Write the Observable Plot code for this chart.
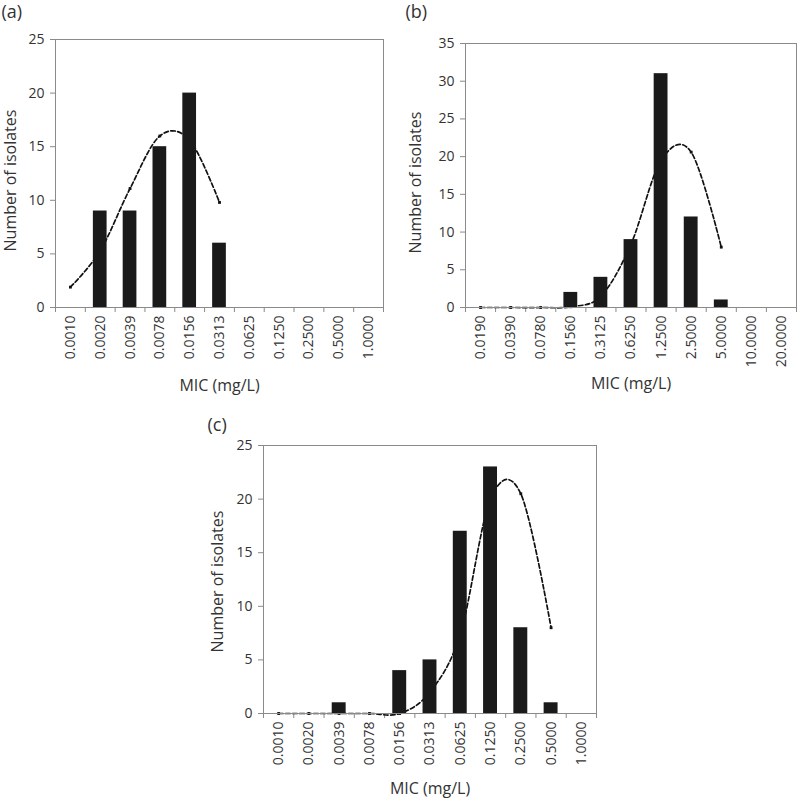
<!DOCTYPE html>
<html>
<head>
<meta charset="utf-8">
<script src="https://cdn.jsdelivr.net/npm/d3@7"></script>
<script src="https://cdn.jsdelivr.net/npm/@observablehq/plot@0.6"></script>
<style>
  html, body { margin: 0; padding: 0; background: #fff; }
  #root { position: relative; width: 797px; height: 799px; overflow: hidden; }
  .panel { position: absolute; }
</style>
</head>
<body>
<div id="root">
  <div class="panel" id="pa" style="left:0px;top:0px"></div>
  <div class="panel" id="pb" style="left:400px;top:0px"></div>
  <div class="panel" id="pc" style="left:200px;top:400px"></div>
</div>
<script>
// ---- Data ----
const labelsA = ["0.0010","0.0020","0.0039","0.0078","0.0156","0.0313","0.0625","0.1250","0.2500","0.5000","1.0000"];
const countsA = [0, 9, 9, 15, 20, 6, 0, 0, 0, 0, 0];
const trendA  = [1.9, 5.3, 11.1, 16, 15.6, 9.8];

const labelsB = ["0.0190","0.0390","0.0780","0.1560","0.3125","0.6250","1.2500","2.5000","5.0000","10.0000","20.0000"];
const countsB = [0, 0, 0, 2, 4, 9, 31, 12, 1, 0, 0];
const trendB  = [0, 0, 0, 0.1, 1.5, 8.4, 19.5, 20.6, 8];

const labelsC = ["0.0010","0.0020","0.0039","0.0078","0.0156","0.0313","0.0625","0.1250","0.2500","0.5000","1.0000"];
const countsC = [0, 0, 1, 0, 4, 5, 17, 23, 8, 1, 0];
const trendC  = [0, 0, 0, 0, 0, 2, 7.4, 20, 20.5, 8];

const xTitle = "MIC (mg/L)";
const yTitle = "Number of isolates";

function panel(o) {
  const bars = o.counts.map((n, i) => ({i, n}));
  const pts = o.trend.map((v, i) => ({i, v}));
  const n = o.labels.length;
  const grey = "#8a8a8a";
  return Plot.plot({
    width: o.width, height: o.height,
    marginLeft: o.ml, marginRight: o.mr, marginTop: o.mt, marginBottom: o.mb,
    style: {fontFamily: "'Open Sans', sans-serif", fontSize: "14px", color: "#333", background: "white", overflow: "visible"},
    x: {domain: [0, n], axis: null},
    y: {domain: [0, o.yMax], axis: null},
    marks: [
      Plot.axisY({ticks: d3.range(0, o.yMax + 1, 5), tickSize: 5, tickPadding: 6, stroke: grey, label: null, fontSize: 14}),
      Plot.axisX({ticks: d3.range(n + 1), tickSize: 5, tickFormat: () => "", stroke: grey, label: null}),
      Plot.axisX({ticks: o.labels.map((_, i) => i + 0.5), tickSize: 0, tickPadding: 8, tickRotate: -90,
                  tickFormat: d => o.labels[Math.floor(d)], label: null, fontSize: 14}),
      Plot.line(pts, {x: d => d.i + 0.5, y: "v", curve: "cardinal", stroke: "#111", strokeWidth: 1.7, strokeDasharray: "4.5,2.5"}),
      Plot.dot(pts, {x: d => d.i + 0.5, y: "v", symbol: "square", r: 1.6, fill: "#111"}),
      Plot.rectY(bars, {x1: d => d.i + 0.27, x2: d => d.i + 0.73, y1: 0, y2: "n", fill: "#1a1a1a"}),
      Plot.frame({stroke: grey}),
      Plot.text([xTitle], {text: d => d, frameAnchor: "bottom", textAnchor: "middle", lineAnchor: "middle", dy: o.xdy, fontSize: 16}),
      Plot.text([yTitle], {text: d => d, frameAnchor: "left", textAnchor: "middle", lineAnchor: "middle", rotate: -90, dx: o.ydx, dy: o.ydy, fontSize: 16}),
      Plot.text([o.letter], {text: d => d, frameAnchor: "top-left", textAnchor: "start", lineAnchor: "middle", dx: o.ldx, dy: o.ldy, fontSize: 18})
    ]
  });
}

document.getElementById("pa").append(panel({
  labels: labelsA, counts: countsA, trend: trendA, yMax: 25,
  width: 400, height: 400, ml: 55, mr: 17, mt: 39, mb: 93,
  xdy: 78, ydx: -45, ydy: 7, letter: "(a)", ldx: -54, ldy: -27
}));
document.getElementById("pb").append(panel({
  labels: labelsB, counts: countsB, trend: trendB, yMax: 35,
  width: 397, height: 400, ml: 65, mr: 1, mt: 43, mb: 93,
  xdy: 76, ydx: -50, ydy: 7, letter: "(b)", ldx: -60, ldy: -31
}));
document.getElementById("pc").append(panel({
  labels: labelsC, counts: countsC, trend: trendC, yMax: 25,
  width: 400, height: 399, ml: 63, mr: 4, mt: 45, mb: 86,
  xdy: 75, ydx: -46, ydy: 2, letter: "(c)", ldx: -56, ldy: -20
}));
</script>
</body>
</html>
